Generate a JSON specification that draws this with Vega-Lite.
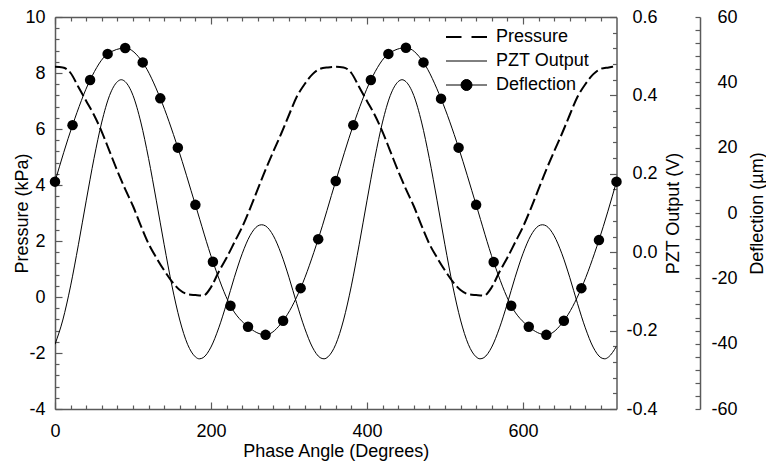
{
  "$schema": "https://vega.github.io/schema/vega-lite/v6.json",
  "width": 561.5,
  "height": 392,
  "autosize": {"type": "none"},
  "padding": {"left": 55, "top": 17, "right": 149.5, "bottom": 56},
  "config": {
    "view": {"stroke": null},
    "font": "Liberation Sans",
    "locale": {"number": {"decimal": ".", "thousands": ",", "grouping": [3], "currency": ["$", ""], "minus": "-"}},
    "axis": {
      "labelFontSize": 18, "titleFontSize": 18, "labelFont": "Liberation Sans", "titleFont": "Liberation Sans",
      "labelColor": "black", "titleColor": "black", "titleFontWeight": "normal",
      "domainColor": "#5a5a5a", "tickColor": "#5a5a5a", "domainWidth": 1.5, "tickWidth": 1.2,
      "grid": false, "labelFlush": false, "labelOverlap": false, "labelBound": false
    }
  },
  "datasets": {
    "d": [
      {"series": "Pressure", "angle": 0, "value": 8.22},
      {"series": "Pressure", "angle": 10, "value": 8.2},
      {"series": "Pressure", "angle": 20, "value": 8.0},
      {"series": "Pressure", "angle": 30, "value": 7.5},
      {"series": "Pressure", "angle": 40, "value": 7.0},
      {"series": "Pressure", "angle": 50, "value": 6.5},
      {"series": "Pressure", "angle": 60, "value": 5.9},
      {"series": "Pressure", "angle": 70, "value": 5.2},
      {"series": "Pressure", "angle": 80, "value": 4.5},
      {"series": "Pressure", "angle": 90, "value": 3.85},
      {"series": "Pressure", "angle": 100, "value": 3.25},
      {"series": "Pressure", "angle": 110, "value": 2.55},
      {"series": "Pressure", "angle": 120, "value": 1.9},
      {"series": "Pressure", "angle": 130, "value": 1.4},
      {"series": "Pressure", "angle": 140, "value": 0.95},
      {"series": "Pressure", "angle": 150, "value": 0.55},
      {"series": "Pressure", "angle": 160, "value": 0.25},
      {"series": "Pressure", "angle": 170, "value": 0.1},
      {"series": "Pressure", "angle": 180, "value": 0.07},
      {"series": "Pressure", "angle": 190, "value": 0.05},
      {"series": "Pressure", "angle": 200, "value": 0.35},
      {"series": "Pressure", "angle": 210, "value": 0.9},
      {"series": "Pressure", "angle": 220, "value": 1.4},
      {"series": "Pressure", "angle": 230, "value": 1.95},
      {"series": "Pressure", "angle": 240, "value": 2.5},
      {"series": "Pressure", "angle": 250, "value": 3.15},
      {"series": "Pressure", "angle": 260, "value": 3.85},
      {"series": "Pressure", "angle": 270, "value": 4.55},
      {"series": "Pressure", "angle": 280, "value": 5.2},
      {"series": "Pressure", "angle": 290, "value": 5.83},
      {"series": "Pressure", "angle": 300, "value": 6.5},
      {"series": "Pressure", "angle": 310, "value": 7.15},
      {"series": "Pressure", "angle": 320, "value": 7.6},
      {"series": "Pressure", "angle": 330, "value": 7.95},
      {"series": "Pressure", "angle": 340, "value": 8.15},
      {"series": "Pressure", "angle": 350, "value": 8.2},
      {"series": "Pressure", "angle": 360, "value": 8.22},
      {"series": "Pressure", "angle": 370, "value": 8.2},
      {"series": "Pressure", "angle": 380, "value": 8.0},
      {"series": "Pressure", "angle": 390, "value": 7.5},
      {"series": "Pressure", "angle": 400, "value": 7.0},
      {"series": "Pressure", "angle": 410, "value": 6.5},
      {"series": "Pressure", "angle": 420, "value": 5.9},
      {"series": "Pressure", "angle": 430, "value": 5.2},
      {"series": "Pressure", "angle": 440, "value": 4.5},
      {"series": "Pressure", "angle": 450, "value": 3.85},
      {"series": "Pressure", "angle": 460, "value": 3.25},
      {"series": "Pressure", "angle": 470, "value": 2.55},
      {"series": "Pressure", "angle": 480, "value": 1.9},
      {"series": "Pressure", "angle": 490, "value": 1.4},
      {"series": "Pressure", "angle": 500, "value": 0.95},
      {"series": "Pressure", "angle": 510, "value": 0.55},
      {"series": "Pressure", "angle": 520, "value": 0.25},
      {"series": "Pressure", "angle": 530, "value": 0.1},
      {"series": "Pressure", "angle": 540, "value": 0.07},
      {"series": "Pressure", "angle": 550, "value": 0.05},
      {"series": "Pressure", "angle": 560, "value": 0.35},
      {"series": "Pressure", "angle": 570, "value": 0.9},
      {"series": "Pressure", "angle": 580, "value": 1.4},
      {"series": "Pressure", "angle": 590, "value": 1.95},
      {"series": "Pressure", "angle": 600, "value": 2.5},
      {"series": "Pressure", "angle": 610, "value": 3.15},
      {"series": "Pressure", "angle": 620, "value": 3.85},
      {"series": "Pressure", "angle": 630, "value": 4.55},
      {"series": "Pressure", "angle": 640, "value": 5.2},
      {"series": "Pressure", "angle": 650, "value": 5.83},
      {"series": "Pressure", "angle": 660, "value": 6.5},
      {"series": "Pressure", "angle": 670, "value": 7.15},
      {"series": "Pressure", "angle": 680, "value": 7.6},
      {"series": "Pressure", "angle": 690, "value": 7.95},
      {"series": "Pressure", "angle": 700, "value": 8.15},
      {"series": "Pressure", "angle": 710, "value": 8.2},
      {"series": "Pressure", "angle": 720, "value": 8.25},

      {"series": "PZT Output", "angle": 0, "value": -0.235},
      {"series": "PZT Output", "angle": 10, "value": -0.173},
      {"series": "PZT Output", "angle": 20, "value": -0.086},
      {"series": "PZT Output", "angle": 30, "value": 0.019},
      {"series": "PZT Output", "angle": 40, "value": 0.131},
      {"series": "PZT Output", "angle": 50, "value": 0.239},
      {"series": "PZT Output", "angle": 60, "value": 0.332},
      {"series": "PZT Output", "angle": 70, "value": 0.4},
      {"series": "PZT Output", "angle": 80, "value": 0.435},
      {"series": "PZT Output", "angle": 85, "value": 0.44},
      {"series": "PZT Output", "angle": 90, "value": 0.435},
      {"series": "PZT Output", "angle": 100, "value": 0.4},
      {"series": "PZT Output", "angle": 110, "value": 0.332},
      {"series": "PZT Output", "angle": 120, "value": 0.239},
      {"series": "PZT Output", "angle": 130, "value": 0.131},
      {"series": "PZT Output", "angle": 140, "value": 0.019},
      {"series": "PZT Output", "angle": 150, "value": -0.086},
      {"series": "PZT Output", "angle": 160, "value": -0.173},
      {"series": "PZT Output", "angle": 170, "value": -0.235},
      {"series": "PZT Output", "angle": 180, "value": -0.267},
      {"series": "PZT Output", "angle": 185, "value": -0.272},
      {"series": "PZT Output", "angle": 190, "value": -0.269},
      {"series": "PZT Output", "angle": 200, "value": -0.242},
      {"series": "PZT Output", "angle": 210, "value": -0.193},
      {"series": "PZT Output", "angle": 220, "value": -0.131},
      {"series": "PZT Output", "angle": 230, "value": -0.064},
      {"series": "PZT Output", "angle": 240, "value": -0.004},
      {"series": "PZT Output", "angle": 250, "value": 0.042},
      {"series": "PZT Output", "angle": 260, "value": 0.067},
      {"series": "PZT Output", "angle": 265, "value": 0.07},
      {"series": "PZT Output", "angle": 270, "value": 0.067},
      {"series": "PZT Output", "angle": 280, "value": 0.042},
      {"series": "PZT Output", "angle": 290, "value": -0.004},
      {"series": "PZT Output", "angle": 300, "value": -0.064},
      {"series": "PZT Output", "angle": 310, "value": -0.131},
      {"series": "PZT Output", "angle": 320, "value": -0.193},
      {"series": "PZT Output", "angle": 330, "value": -0.242},
      {"series": "PZT Output", "angle": 340, "value": -0.269},
      {"series": "PZT Output", "angle": 345, "value": -0.272},
      {"series": "PZT Output", "angle": 350, "value": -0.267},
      {"series": "PZT Output", "angle": 360, "value": -0.235},
      {"series": "PZT Output", "angle": 370, "value": -0.173},
      {"series": "PZT Output", "angle": 380, "value": -0.086},
      {"series": "PZT Output", "angle": 390, "value": 0.019},
      {"series": "PZT Output", "angle": 400, "value": 0.131},
      {"series": "PZT Output", "angle": 410, "value": 0.239},
      {"series": "PZT Output", "angle": 420, "value": 0.332},
      {"series": "PZT Output", "angle": 430, "value": 0.4},
      {"series": "PZT Output", "angle": 440, "value": 0.435},
      {"series": "PZT Output", "angle": 445, "value": 0.44},
      {"series": "PZT Output", "angle": 450, "value": 0.435},
      {"series": "PZT Output", "angle": 460, "value": 0.4},
      {"series": "PZT Output", "angle": 470, "value": 0.332},
      {"series": "PZT Output", "angle": 480, "value": 0.239},
      {"series": "PZT Output", "angle": 490, "value": 0.131},
      {"series": "PZT Output", "angle": 500, "value": 0.019},
      {"series": "PZT Output", "angle": 510, "value": -0.086},
      {"series": "PZT Output", "angle": 520, "value": -0.173},
      {"series": "PZT Output", "angle": 530, "value": -0.235},
      {"series": "PZT Output", "angle": 540, "value": -0.267},
      {"series": "PZT Output", "angle": 545, "value": -0.272},
      {"series": "PZT Output", "angle": 550, "value": -0.269},
      {"series": "PZT Output", "angle": 560, "value": -0.242},
      {"series": "PZT Output", "angle": 570, "value": -0.193},
      {"series": "PZT Output", "angle": 580, "value": -0.131},
      {"series": "PZT Output", "angle": 590, "value": -0.064},
      {"series": "PZT Output", "angle": 600, "value": -0.004},
      {"series": "PZT Output", "angle": 610, "value": 0.042},
      {"series": "PZT Output", "angle": 620, "value": 0.067},
      {"series": "PZT Output", "angle": 625, "value": 0.07},
      {"series": "PZT Output", "angle": 630, "value": 0.067},
      {"series": "PZT Output", "angle": 640, "value": 0.042},
      {"series": "PZT Output", "angle": 650, "value": -0.004},
      {"series": "PZT Output", "angle": 660, "value": -0.064},
      {"series": "PZT Output", "angle": 670, "value": -0.131},
      {"series": "PZT Output", "angle": 680, "value": -0.193},
      {"series": "PZT Output", "angle": 690, "value": -0.242},
      {"series": "PZT Output", "angle": 700, "value": -0.269},
      {"series": "PZT Output", "angle": 705, "value": -0.272},
      {"series": "PZT Output", "angle": 710, "value": -0.267},
      {"series": "PZT Output", "angle": 720, "value": -0.24},

      {"series": "Deflection", "angle": 0, "value": 9.6},
      {"series": "Deflection", "angle": 22.5, "value": 26.9},
      {"series": "Deflection", "angle": 45, "value": 40.7},
      {"series": "Deflection", "angle": 67.5, "value": 48.7},
      {"series": "Deflection", "angle": 90, "value": 50.5},
      {"series": "Deflection", "angle": 112.5, "value": 46.1},
      {"series": "Deflection", "angle": 135, "value": 35.1},
      {"series": "Deflection", "angle": 157.5, "value": 20.0},
      {"series": "Deflection", "angle": 180, "value": 2.5},
      {"series": "Deflection", "angle": 202.5, "value": -14.9},
      {"series": "Deflection", "angle": 225, "value": -28.4},
      {"series": "Deflection", "angle": 247.5, "value": -34.8},
      {"series": "Deflection", "angle": 270, "value": -37.3},
      {"series": "Deflection", "angle": 292.5, "value": -33.0},
      {"series": "Deflection", "angle": 315, "value": -23.0},
      {"series": "Deflection", "angle": 337.5, "value": -8.0},
      {"series": "Deflection", "angle": 360, "value": 9.8},
      {"series": "Deflection", "angle": 382.5, "value": 26.9},
      {"series": "Deflection", "angle": 405, "value": 40.7},
      {"series": "Deflection", "angle": 427.5, "value": 48.7},
      {"series": "Deflection", "angle": 450, "value": 50.6},
      {"series": "Deflection", "angle": 472.5, "value": 46.1},
      {"series": "Deflection", "angle": 495, "value": 35.0},
      {"series": "Deflection", "angle": 517.5, "value": 20.0},
      {"series": "Deflection", "angle": 540, "value": 2.5},
      {"series": "Deflection", "angle": 562.5, "value": -15.0},
      {"series": "Deflection", "angle": 585, "value": -28.4},
      {"series": "Deflection", "angle": 607.5, "value": -34.8},
      {"series": "Deflection", "angle": 630, "value": -37.3},
      {"series": "Deflection", "angle": 652.5, "value": -33.0},
      {"series": "Deflection", "angle": 675, "value": -23.0},
      {"series": "Deflection", "angle": 697.5, "value": -8.3},
      {"series": "Deflection", "angle": 720, "value": 9.6}
    ]
  },
  "data": {"name": "d"},
  "layer": [
    {
      "transform": [{"filter": "datum.series === 'Pressure'"}],
      "mark": {"type": "line", "strokeDash": [12, 4], "strokeWidth": 2, "interpolate": "monotone", "clip": true},
      "encoding": {
        "x": {
          "field": "angle", "type": "quantitative",
          "scale": {"domain": [0, 720], "nice": false, "zero": false},
          "axis": {
            "orient": "bottom",
            "values": [0, 200, 400, 600],
            "format": "d",
            "tickSize": -7,
            "labelPadding": 20,
            "title": "Phase Angle (Degrees)",
            "titleX": 280.75, "titleY": 42, "titleBaseline": "middle", "titleAlign": "center"
          }
        },
        "y": {
          "field": "value", "type": "quantitative",
          "scale": {"domain": [-4, 10], "nice": false, "zero": false},
          "axis": {
            "orient": "left",
            "values": [-4, -2, 0, 2, 4, 6, 8, 10],
            "format": "d",
            "tickSize": -7,
            "labelPadding": 17,
            "title": "Pressure (kPa)",
            "titleX": -33, "titleY": 196, "titleAngle": 270, "titleBaseline": "middle", "titleAlign": "center"
          }
        },
        "color": {
          "field": "series", "type": "nominal",
          "scale": {"domain": ["Pressure", "PZT Output", "Deflection"], "range": ["black", "black", "black"]},
          "legend": {
            "orient": "none", "legendX": 402.5, "legendY": 11, "title": null,
            "symbolSize": 100, "labelFontSize": 18, "labelFont": "Liberation Sans", "labelColor": "black",
            "labelOffset": 20.5, "rowPadding": 6, "padding": 0,
            "encode": {
              "symbols": {
                "update": {
                  "shape": {"signal": "datum.value === 'Pressure' ? 'M-4.1,0L-1,0M1,0L4.1,0' : datum.value === 'PZT Output' ? 'M-4.1,0L4.1,0' : 'M-4.1,0L4.1,0M-1.1,0A1.1,1.1 0 1,1 1.1,0A1.1,1.1 0 1,1 -1.1,0Z'"},
                  "fill": {"signal": "datum.value === 'Deflection' ? 'black' : 'transparent'"},
                  "stroke": {"value": "black"},
                  "strokeWidth": {"signal": "datum.value === 'Pressure' ? 2 : 1"},
                  "opacity": {"value": 1}
                }
              }
            }
          }
        }
      }
    },
    {
      "transform": [{"filter": "datum.series === 'PZT Output'"}],
      "mark": {"type": "line", "strokeWidth": 1, "interpolate": "monotone", "clip": true},
      "encoding": {
        "x": {
          "field": "angle", "type": "quantitative",
          "scale": {"domain": [0, 720], "nice": false, "zero": false},
          "axis": {
            "orient": "top",
            "values": [0, 200, 400, 600],
            "labels": false,
            "tickSize": -7,
            "title": null
          }
        },
        "y": {
          "field": "value", "type": "quantitative",
          "scale": {"domain": [-0.4, 0.6], "nice": false, "zero": false},
          "axis": {
            "orient": "right",
            "values": [-0.4, -0.2, 0, 0.2, 0.4, 0.6],
            "format": ".1f",
            "tickSize": -7,
            "labelAlign": "right",
            "labelPadding": 47.5,
            "title": "PZT Output (V)",
            "titleX": 56.5, "titleY": 196, "titleAngle": 270, "titleBaseline": "middle", "titleAlign": "center"
          }
        },
        "color": {"field": "series", "type": "nominal"}
      }
    },
    {
      "transform": [{"filter": "datum.series === 'Pressure'"}],
      "mark": {"type": "line", "strokeOpacity": 0, "clip": true},
      "encoding": {
        "x": {
          "field": "angle", "type": "quantitative",
          "scale": {"domain": [0, 720], "nice": false, "zero": false},
          "axis": {
            "orient": "bottom",
            "values": [20,40,60,80,100,120,140,160,180,220,240,260,280,300,320,340,360,380,420,440,460,480,500,520,540,560,580,620,640,660,680,700],
            "labels": false, "domain": false,
            "tickSize": -4,
            "title": null
          }
        },
        "y": {
          "field": "value", "type": "quantitative",
          "scale": {"domain": [-4, 10], "nice": false, "zero": false},
          "axis": {
            "orient": "left",
            "values": [-3.6,-3.2,-2.8,-2.4,-1.6,-1.2,-0.8,-0.4,0.4,0.8,1.2,1.6,2.4,2.8,3.2,3.6,4.4,4.8,5.2,5.6,6.4,6.8,7.2,7.6,8.4,8.8,9.2,9.6],
            "labels": false, "domain": false,
            "tickSize": -4,
            "title": null
          }
        }
      }
    },
    {
      "transform": [{"filter": "datum.series === 'PZT Output'"}],
      "mark": {"type": "line", "strokeOpacity": 0, "clip": true},
      "encoding": {
        "x": {
          "field": "angle", "type": "quantitative",
          "scale": {"domain": [0, 720], "nice": false, "zero": false},
          "axis": {
            "orient": "top",
            "values": [20,40,60,80,100,120,140,160,180,220,240,260,280,300,320,340,360,380,420,440,460,480,500,520,540,560,580,620,640,660,680,700],
            "labels": false, "domain": false,
            "tickSize": -4,
            "title": null
          }
        },
        "y": {
          "field": "value", "type": "quantitative",
          "scale": {"domain": [-0.4, 0.6], "nice": false, "zero": false},
          "axis": {
            "orient": "right",
            "values": [-0.36,-0.32,-0.28,-0.24,-0.16,-0.12,-0.08,-0.04,0.04,0.08,0.12,0.16,0.24,0.28,0.32,0.36,0.44,0.48,0.52,0.56],
            "labels": false, "domain": false,
            "tickSize": -4,
            "title": null
          }
        }
      }
    },
    {
      "transform": [{"filter": "datum.series === 'Deflection'"}],
      "encoding": {
        "x": {
          "field": "angle", "type": "quantitative",
          "scale": {"domain": [0, 720], "nice": false, "zero": false},
          "axis": null
        },
        "y": {
          "field": "value", "type": "quantitative",
          "scale": {"domain": [-60, 60], "nice": false, "zero": false},
          "axis": {
            "orient": "right",
            "offset": 83.5,
            "values": [-60,-56,-52,-48,-44,-40,-36,-32,-28,-24,-20,-16,-12,-8,-4,0,4,8,12,16,20,24,28,32,36,40,44,48,52,56,60],
            "format": "d",
            "labelExpr": "datum.value % 20 === 0 ? datum.label : ''",
            "labelOverlap": false,
            "tickSize": -5,
            "labelAlign": "right",
            "labelPadding": 42,
            "title": "Deflection (µm)",
            "titleX": 57, "titleY": 196, "titleAngle": 270, "titleBaseline": "middle", "titleAlign": "center"
          }
        },
        "color": {"field": "series", "type": "nominal"}
      },
      "layer": [
        {"mark": {"type": "line", "strokeWidth": 1, "interpolate": "monotone", "clip": true}},
        {"mark": {"type": "circle", "size": 110, "opacity": 1, "clip": false}}
      ]
    }
  ],
  "resolve": {
    "scale": {"x": "independent", "y": "independent"},
    "axis": {"x": "independent", "y": "independent"}
  }
}
